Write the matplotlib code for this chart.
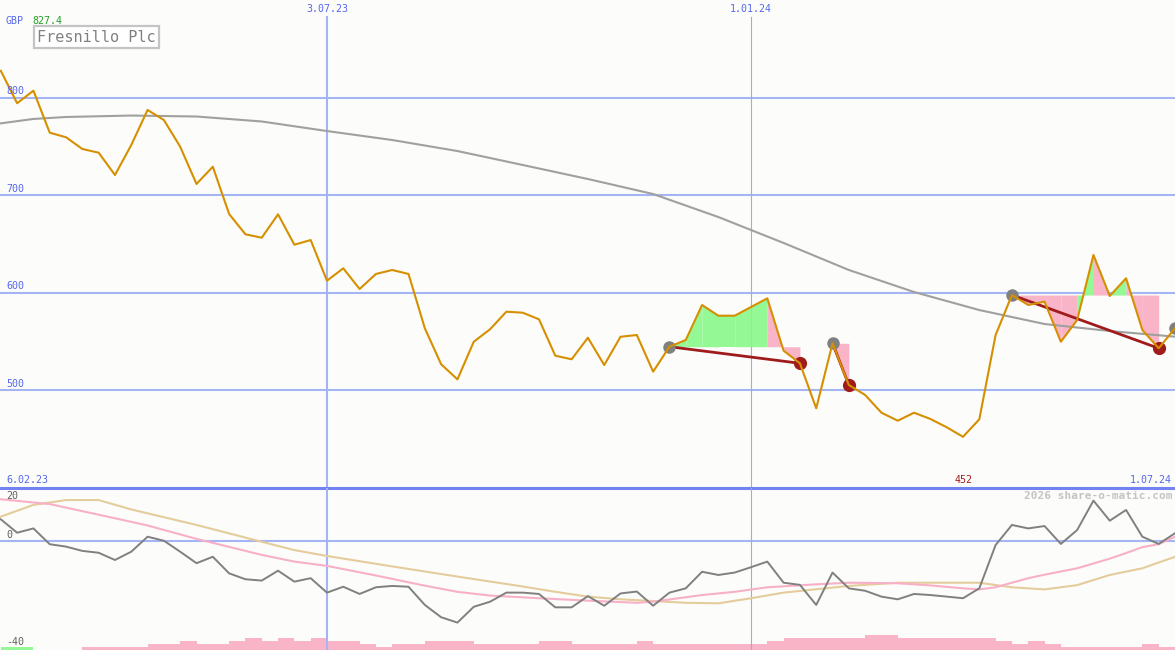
import numpy as np
import matplotlib
matplotlib.use("Agg")
import matplotlib.pyplot as plt

# weekly closes, Fresnillo Plc (GBp), one value per week
price = [827.4, 794.1, 807.0, 763.9, 759.2, 747.2, 743.4, 720.5, 751.3, 787.2,
         776.9, 749.5, 711.3, 729.0, 680.5, 659.7, 656.2, 680.2, 649.0, 653.8,
         612.1, 624.8, 603.6, 619.0, 623.1, 619.0, 563.3, 526.4, 510.9, 549.5,
         562.3, 580.3, 579.3, 572.5, 535.2, 531.5, 553.6, 525.6, 554.6, 556.4,
         518.8, 544.4, 551.3, 587.2, 576.2, 576.2, 585.1, 594.0, 540.3, 527.4,
         481.2, 547.9, 505.1, 494.9, 476.7, 468.5, 476.7, 470.3, 461.8, 452.0,
         469.9, 556.4, 597.4, 587.2, 590.6, 549.5, 571.8, 638.5, 596.4, 614.6,
         561.5, 542.8, 563.3]

# long moving average (grey)
ma_idx = [0, 2, 4, 8, 12, 16, 20, 24, 28, 32, 36, 40, 44, 48, 52, 56, 60, 64, 68, 72]
ma_val = [773.5, 778.0, 780.0, 781.5, 780.5, 775.4, 765.6, 756.4, 745.1, 730.8,
          716.4, 701.0, 677.4, 650.8, 623.1, 600.5, 582.0, 567.7, 560.5, 554.7]

# signals: (buy index, sell index, colour of each segment in between)
signals = [
    (41, 49, ["g", "g", "g", "g", "g", "g", "p", "p"]),
    (51, 52, ["p"]),
    (62, 71, ["p", "p", "p", "p", "g", "p", "g", "p", "p"]),
]
buy_pts = [41, 51, 62, 72]
sell_pts = [49, 52, 71]

# lower panel oscillator
osc = [8.1, 3.1, 4.7, -1.2, -2.1, -3.7, -4.4, -7.1, -4.0, 1.6,
       0.1, -4.0, -8.3, -5.9, -12.1, -14.3, -14.8, -11.1, -15.2, -13.9,
       -19.3, -17.1, -19.8, -17.3, -16.8, -17.1, -23.9, -28.5, -30.5, -24.6,
       -22.7, -19.3, -19.3, -19.8, -24.8, -24.8, -20.6, -24.2, -19.6, -18.9,
       -24.2, -19.3, -17.7, -11.5, -12.7, -11.8, -9.8, -7.7, -15.6, -16.4,
       -23.9, -11.8, -17.7, -18.6, -20.8, -21.8, -19.8, -20.2, -20.8, -21.4,
       -17.7, -1.5, 6.0, 4.7, 5.6, -1.1, 4.1, 15.1, 7.6, 11.6,
       1.6, -1.1, 2.9]

pink_idx = [0, 3, 7, 9, 12, 16, 18, 20, 23, 26, 28, 30, 33, 36, 39, 40, 43, 45,
            47, 50, 52, 55, 57, 59, 60, 61, 63, 64, 66, 68, 69, 70, 71, 72]
pink_val = [15.6, 13.8, 8.5, 5.8, 0.8, -5.2, -7.7, -9.3, -12.9, -16.7, -19.0, -20.4,
            -21.4, -22.3, -23.1, -22.7, -20.2, -19.0, -17.3, -16.2, -15.6, -15.8,
            -16.6, -17.7, -18.1, -17.3, -13.9, -12.6, -10.2, -6.6, -4.5, -2.3, -1.2, 1.6]

tan_idx = [0, 2, 4, 6, 8, 12, 16, 18, 20, 24, 28, 32, 34, 36, 38, 42, 44, 46,
           48, 52, 55, 60, 62, 64, 66, 67, 68, 70, 72]
tan_val = [9.1, 13.5, 15.3, 15.3, 11.8, 6.0, -0.3, -3.4, -5.6, -9.5, -13.3, -17.0,
           -19.0, -20.8, -21.8, -23.1, -23.3, -21.4, -19.3, -16.8, -15.6, -15.6,
           -17.3, -18.1, -16.5, -14.6, -12.7, -10.2, -5.9]

# weekly volume bars (relative steps), first two weeks drawn green
volume = [1, 1, 0, 0, 0, 1, 1, 1, 1, 2, 2, 3, 2, 2, 3, 4, 3, 4, 3, 4,
          3, 3, 2, 1, 2, 2, 3, 3, 3, 2, 2, 2, 2, 3, 3, 2, 2, 2, 2, 3,
          2, 2, 2, 2, 2, 2, 2, 3, 4, 4, 4, 4, 4, 5, 5, 4, 4, 4, 4, 4,
          4, 3, 2, 3, 2, 1, 1, 1, 1, 1, 2, 1]
vol_green = [0, 1]

date_ticks = [(20, "3.07.23", 1.5, "#a4b4f4"), (46, "1.01.24", 0.8, "#a0a8e8")]

BG = "#fcfdfa"
GRID = "#a4b4f4"
BLUE = "#5566ee"
W, H = 1175, 650

fig = plt.figure(figsize=(W / 100, H / 100), dpi=100, facecolor=BG)
ax = fig.add_axes([0, 162.5 / H, 1, 487.5 / H], facecolor=BG)
ax2 = fig.add_axes([0, 0, 1, 162.5 / H], facecolor=BG)
axv = ax2.twinx()
for a in (ax, ax2, axv):
    a.set_axis_off()

xl = (-0.05, 72.0)
ax.set_xlim(*xl)
ax.set_ylim(400, 900)
ax2.set_xlim(*xl)
ax2.set_ylim(-40.75, 20)
axv.set_xlim(*xl)
axv.set_ylim(0, 54.2)

x = np.arange(len(price))
p = np.array(price)

# grid
for lv in [500, 600, 700, 800]:
    ax.axhline(lv, color=GRID, lw=1.5, zorder=1)
ax.axhline(400, color="#7282f0", lw=2.2, zorder=6, clip_on=False)
ax2.axhline(0, color=GRID, lw=1.5, zorder=1)
for xi, lab, lw, col in date_ticks:
    ax.axvline(xi, ymax=1 - 17 / 487.5, color=col, lw=lw, zorder=1)
    ax2.axvline(xi, color=col, lw=lw, zorder=1)

# signal fills
fill_col = {"g": "#94f894", "p": "#fab4c8"}
for s, e, cols in signals:
    lvl = p[s]
    for k, c in zip(range(s, e), cols):
        ax.fill_between([k, k + 1], [p[k], p[k + 1]], lvl, color=fill_col[c],
                        lw=0, zorder=2)

ax.plot(ma_idx, ma_val, color="#a0a0a0", lw=1.5, zorder=3)

for s, e, cols in signals:
    ax.plot([s, e], [p[s], p[e]], color="#a01c1c", lw=2.0, zorder=4)

ax.plot(buy_pts, p[buy_pts], "o", color="#808080", ms=9, mew=0, zorder=5,
        clip_on=False)
ax.plot(sell_pts, p[sell_pts], "o", color="#a01c1c", ms=9.5, mew=0, zorder=5)
ax.plot(x, p, color="#d68f00", lw=1.5, zorder=6)

# lower panel
vol_c = ["#94f894" if k in vol_green else "#fab4c8" for k in range(len(volume))]
axv.bar(np.arange(len(volume)), volume, width=1.0, align="edge", color=vol_c,
        lw=0, zorder=1)
ax2.plot(tan_idx, tan_val, color="#e4cc9c", lw=1.5, zorder=3)
ax2.plot(pink_idx, pink_val, color="#f8b0c8", lw=1.5, zorder=3)
ax2.plot(x, osc, color="#808080", lw=1.4, zorder=4)
ax2.set_zorder(axv.get_zorder() + 1)
ax2.patch.set_visible(False)


def ptext(px, py, s, **kw):
    kw.setdefault("family", "DejaVu Sans Mono")
    kw.setdefault("fontsize", 7.2)
    kw.setdefault("va", "center")
    fig.text(px / W, 1 - py / H, s, **kw)


ptext(6, 21, "GBP", color=BLUE)
ptext(32, 21, "827.4", color="#22a022")
ptext(37, 37, "Fresnillo Plc", color="#808080", fontsize=11,
      bbox=dict(boxstyle="square,pad=0.22", fc="white", ec="#c4c4c4", lw=1.6))
for lv, py in [(800, 91), (700, 189), (600, 286), (500, 384)]:
    ptext(6, py, str(lv), color=BLUE)
for xi, lab, lw, col in date_ticks:
    ptext(0.8 + 16.31 * xi, 9, lab, color=BLUE, ha="center")
ptext(6, 480, "6.02.23", color=BLUE)
ptext(1172, 480, "1.07.24", color=BLUE, ha="right")
ptext(0.8 + 16.31 * 59, 480, "452", color="#a01c1c", ha="center")
ptext(1172, 496, "2026 share-o-matic.com", color="#c4c4c4", ha="right",
      fontsize=8, fontweight="bold")
ptext(6, 496, "20", color="#606060")
ptext(6, 535, "0", color="#606060")
ptext(6, 642, "-40", color="#606060")

fig.savefig("out.png", dpi=100, facecolor=BG)
